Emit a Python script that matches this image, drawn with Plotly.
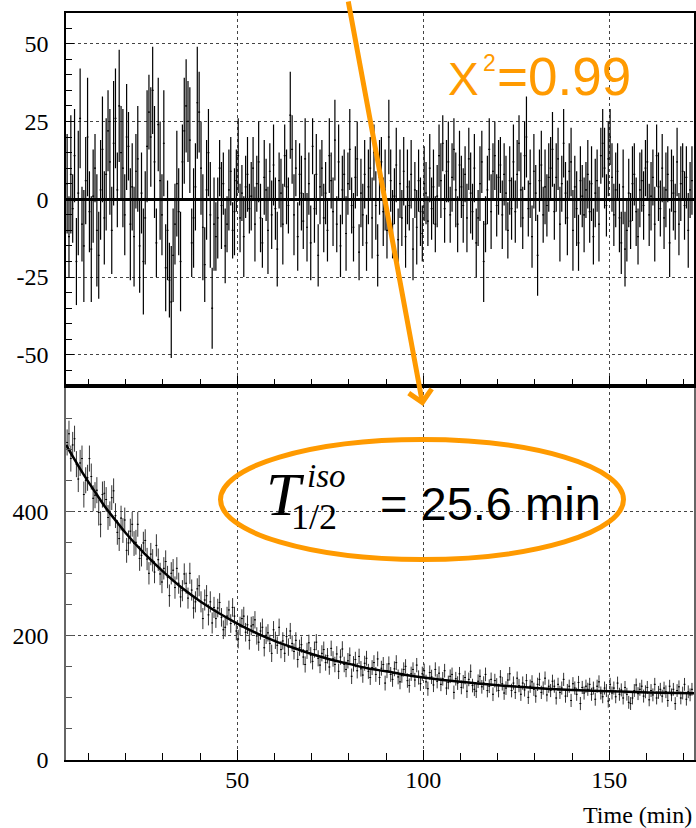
import plotly.graph_objects as go

# ---------------- data ----------------
BIN_START = 4.25      # centre of first 0.5-min bin
BIN_WIDTH = 0.5

# residuals (top panel), 0.5-min bins
residuals = [
    5,-12,8,-3,14,-20,2,26,-8,-15,6,20,-4,-16,1,10,-10,-18,3,16,
    -6,8,22,12,-10,18,26,3,30,15,10,-5,20,17,-8,4,-12,9,13,-15,
    2,-20,-6,17,28,20,35,12,-14,24,6,-5,18,-22,-10,-26,-33,-18,-8,5,
    -4,-20,12,22,30,25,19,-14,-6,4,31,28,10,-9,-21,3,15,-5,-35,-8,
    -12,-6,10,-2,5,-15,-8,3,9,-10,-4,6,14,-6,2,-12,4,8,-3,1,
    10,-8,5,12,-6,-14,7,3,-10,9,-5,11,-3,-16,6,2,-8,14,4,-2,
    27,16,-5,10,-12,8,2,-7,13,-9,5,-14,17,-3,8,-18,4,10,-6,2,
    -10,14,6,-4,19,-8,12,-15,3,8,-11,5,16,-2,-9,7,13,-17,2,-5,
    8,-14,4,10,-6,15,-2,-18,7,12,-4,3,-10,20,6,-8,1,11,-13,5,
    -6,9,-12,4,-2,8,-16,3,-9,6,-4,-11,5,2,-7,10,-3,4,-8,1,
    14,6,18,-3,9,12,-5,7,16,3,-8,11,4,-2,8,-6,13,2,-4,10,
    -14,-6,5,12,-20,-8,3,16,-4,9,14,-2,7,11,-5,8,2,-10,6,-3,
    12,-4,8,18,3,-6,14,20,-3,5,-12,9,2,-18,6,11,-5,4,-2,7,
    10,16,-4,7,13,-8,5,18,2,-6,9,12,-10,4,-3,-14,6,1,-5,3,
    8,-4,5,-12,2,6,-8,14,18,10,-2,13,20,7,-5,3,9,-6,-14,4,
    -16,-10,2,-7,5,8,-4,-12,3,6,-2,10,12,-5,1,7,-8,14,4,-3,
    10,-6,3,8,-14,6,2,-4,12,-8,5,9,-2,7,-10,3,6,
]
residual_err = [
    16,13,19,11,15,14,20,16,12,18,14,19,13,17,15,11,18,14,16,17,
    15,18,13,17,14,20,16,12,18,15,19,13,17,11,18,14,16,12,17,15,
    13,17,15,18,12,16,14,18,11,15,19,13,17,14,16,12,18,15,13,17,
    14,16,12,17,15,13,17,11,16,14,18,13,15,17,12,16,14,17,13,15,
    11,13,9,14,10,12,9,13,11,9,14,10,12,11,9,13,10,12,8,11,
    10,12,9,13,11,8,12,10,14,9,11,13,10,12,9,11,13,10,12,9,
    14,11,13,9,11,10,12,9,13,11,10,12,9,11,13,10,12,9,11,10,
    10,12,9,11,13,9,12,10,11,8,12,10,13,9,11,10,12,9,11,10,
    11,9,12,10,13,9,11,10,12,8,11,13,9,12,10,11,9,12,10,11,
    9,11,10,12,8,11,10,9,12,10,11,9,12,10,8,11,10,12,9,10,
    10,12,9,11,10,13,9,11,10,12,9,11,10,12,9,11,10,13,9,11,
    11,9,12,10,13,9,11,10,12,9,11,10,12,9,11,10,12,9,11,10,
    12,10,11,9,12,10,11,13,9,11,10,12,9,13,10,11,9,12,10,11,
    10,12,9,11,10,12,9,11,10,12,9,11,13,10,12,9,11,10,12,9,
    11,10,12,9,11,10,12,9,11,13,10,12,9,11,10,12,9,11,10,12,
    12,10,11,9,12,10,11,9,12,10,11,9,12,10,11,9,12,10,11,9,
    11,10,12,9,11,10,12,9,11,10,12,9,11,10,12,9,11,
]

# counts (bottom panel), 0.5-min bins
counts = [
    512,526,486,508,518,477,453,479,486,428,451,455,486,457,422,427,435,399,380,428,
    430,420,391,397,423,434,394,367,357,390,370,387,338,350,369,380,349,351,380,325,
    330,350,354,324,301,332,322,303,346,323,300,287,309,320,295,265,301,306,278,309,
    285,263,273,300,285,261,301,274,245,255,276,281,255,228,258,265,234,255,221,246,
    228,245,254,230,210,214,232,242,220,246,232,208,195,216,228,232,206,218,193,216,
    218,226,200,190,208,214,181,201,205,188,172,210,193,185,214,178,192,172,199,182,
    208,188,175,193,162,181,186,166,154,176,189,169,159,178,190,164,153,172,178,157,
    168,150,180,163,154,171,143,166,179,154,146,160,169,135,155,162,144,167,147,137,
    156,164,143,133,149,157,138,163,133,148,154,124,144,155,138,130,147,157,134,126,
    136,146,151,128,120,139,146,129,153,133,123,139,144,126,115,141,134,121,146,127,
    140,122,131,144,116,125,135,138,109,131,124,139,117,126,133,111,130,143,120,114,
    111,127,135,118,124,138,112,119,130,106,128,121,112,134,123,108,116,129,139,112,
    124,109,132,120,106,124,113,128,101,119,126,114,103,122,130,109,116,132,105,119,
    112,127,119,100,122,109,116,130,103,112,119,96,123,116,106,125,91,117,108,119,
    114,122,106,116,98,119,126,108,102,116,112,95,122,108,116,102,124,106,113,100,
    117,106,93,91,100,112,121,107,114,119,103,110,117,97,112,105,122,100,109,114,
    103,116,110,96,119,105,114,91,112,118,100,108,122,98,110,105,114,
]
# statistical error of the counts, one reading per 10-min block
counts_err_by_block = [21, 20, 18, 17, 15, 14, 13, 12.5, 12, 11.5, 11, 11, 10.7, 10.6, 10.5, 10.4, 10.3]

# fitted decay curve
fit_t = [4, 6, 8, 10, 12, 14, 16, 18, 20, 25, 30, 35, 40, 45, 50, 55, 60, 65, 70,
         75, 80, 85, 90, 95, 100, 110, 120, 130, 140, 150, 160, 172.8]
fit_y = [508, 487, 467, 448, 430, 412, 396, 381, 366, 333, 304, 278, 256, 237, 220,
         205, 192, 181, 171, 162, 155, 148, 143, 137.5, 133, 126, 120.5, 116, 113,
         111, 109, 107.5]

x_ticks = [50, 100, 150]
top_y_ticks = [50, 25, 0, -25, -50]
top_y_text = ["50", "25", "0", "-25", "-50"]
bot_y_ticks = [0, 200, 400]

chi2_text = "=0.99"
half_life_text = "= 25.6 min"
x_title = "Time (min)"

# ---------------- geometry helpers ----------------
W, H = 696, 828
ORANGE = "#FF9A00"
SERIF = "Liberation Serif, Times New Roman, serif"
SANS = "Liberation Sans, Arial, sans-serif"


def px(x):
    return x / W


def py(y):
    return 1 - y / H


n_top = min(len(residuals), len(residual_err))
t_top = [BIN_START + BIN_WIDTH * i for i in range(n_top)]
n_bot = len(counts)
t_bot = [BIN_START + BIN_WIDTH * i for i in range(n_bot)]
err_bot = [counts_err_by_block[min(i // 20, len(counts_err_by_block) - 1)] for i in range(n_bot)]

fig = go.Figure()

fig.add_trace(go.Scatter(
    x=t_top, y=residuals[:n_top], mode="markers",
    marker=dict(size=1, color="black"),
    error_y=dict(type="data", array=residual_err[:n_top], thickness=1.2, width=0, color="black"),
    error_x=dict(type="constant", value=BIN_WIDTH / 2, thickness=1.2, width=0, color="black"),
    xaxis="x2", yaxis="y2", showlegend=False, hoverinfo="skip",
))

fig.add_trace(go.Scatter(
    x=t_bot, y=counts, mode="markers",
    marker=dict(size=1, color="black"),
    error_y=dict(type="data", array=err_bot, thickness=1, width=0, color="#333"),
    error_x=dict(type="constant", value=BIN_WIDTH / 2, thickness=1, width=0, color="black"),
    xaxis="x", yaxis="y", showlegend=False, hoverinfo="skip",
))

fig.add_trace(go.Scatter(
    x=fit_t, y=fit_y, mode="lines", line=dict(color="black", width=2.5, shape="spline"),
    xaxis="x", yaxis="y", showlegend=False, hoverinfo="skip",
))

X_RANGE = [3.95, 172.8]
grid = dict(showgrid=True, gridcolor="#444", gridwidth=1, griddash="dot")
tickfont = dict(family=SERIF, size=24, color="black")

fig.update_layout(
    width=W, height=H, autosize=False,
    margin=dict(l=0, r=0, t=0, b=0),
    paper_bgcolor="white", plot_bgcolor="white",
    xaxis=dict(
        domain=[px(66), px(694)], range=X_RANGE, anchor="y", automargin=False,
        tickvals=x_ticks, ticks="inside", ticklen=10, tickcolor="black",
        tickfont=tickfont, ticklabelstandoff=-3,
        minor=dict(dtick=10, tick0=0, ticks="inside", ticklen=7, tickcolor="black", showgrid=False),
        showline=True, linecolor="black", linewidth=2, mirror=True, zeroline=False, **grid,
    ),
    yaxis=dict(
        domain=[py(760), py(386)], range=[0, 603], anchor="x", automargin=False,
        tickvals=bot_y_ticks, ticks="inside", ticklen=8, tickcolor="#555",
        tickfont=tickfont, ticklabelstandoff=11,
        minor=dict(dtick=50, tick0=0, ticks="inside", ticklen=6, tickcolor="#555", showgrid=False),
        showline=True, linecolor="#666", linewidth=1.5, mirror=True, zeroline=False, **grid,
    ),
    xaxis2=dict(
        domain=[px(66), px(694)], range=X_RANGE, anchor="y2", matches="x", automargin=False,
        tickvals=x_ticks, showticklabels=False, ticks="inside", ticklen=10, tickcolor="black",
        minor=dict(dtick=10, tick0=0, ticks="inside", ticklen=7, tickcolor="black", showgrid=False),
        showline=True, linecolor="black", linewidth=2, mirror=True, zeroline=False, **grid,
    ),
    yaxis2=dict(
        domain=[py(386), py(12.5)], range=[-60, 60], anchor="x2", automargin=False,
        tickvals=top_y_ticks, ticktext=top_y_text, ticks="inside", ticklen=8, tickcolor="black",
        tickfont=tickfont, ticklabelstandoff=11,
        minor=dict(dtick=5, tick0=0, ticks="inside", ticklen=6, tickcolor="black", showgrid=False),
        showline=True, linecolor="black", linewidth=1.5, mirror=True,
        zeroline=True, zerolinecolor="black", zerolinewidth=2.5, **grid,
    ),
)

# orange ellipse around the half-life
fig.add_shape(type="circle", xref="paper", yref="paper",
              x0=px(220.5), x1=px(623.5), y0=py(559.5), y1=py(439.5),
              line=dict(color=ORANGE, width=5), layer="above")

annotations = [
    # arrow
    dict(x=px(423), y=py(406), xref="paper", yref="paper", text="", showarrow=True,
         ax=348 - 423, ay=0 - 406, axref="pixel", ayref="pixel",
         arrowhead=4, arrowsize=0.9, arrowwidth=5, arrowcolor=ORANGE, standoff=0),
    # chi^2 text
    dict(x=px(446), y=py(79.5), xref="paper", yref="paper", text="X", showarrow=False,
         xanchor="left", yanchor="middle", font=dict(family=SANS, size=46, color=ORANGE)),
    dict(x=px(481), y=py(62.5), xref="paper", yref="paper", text="2", showarrow=False,
         xanchor="left", yanchor="middle", font=dict(family=SANS, size=23, color=ORANGE)),
    dict(x=px(495), y=py(76.5), xref="paper", yref="paper", text=chi2_text, showarrow=False,
         xanchor="left", yanchor="middle", font=dict(family=SANS, size=53, color=ORANGE)),
    # T_{1/2}^{iso}
    dict(x=px(264), y=py(494), xref="paper", yref="paper", text="<i>T</i>", showarrow=False,
         xanchor="left", yanchor="middle", font=dict(family=SERIF, size=62, color="black")),
    dict(x=px(305), y=py(476), xref="paper", yref="paper", text="<i>iso</i>", showarrow=False,
         xanchor="left", yanchor="middle", font=dict(family=SERIF, size=33, color="black")),
    dict(x=px(289), y=py(517), xref="paper", yref="paper", text="1/2", showarrow=False,
         xanchor="left", yanchor="middle", font=dict(family=SERIF, size=36, color="black")),
    dict(x=px(378), y=py(503.5), xref="paper", yref="paper", text=half_life_text, showarrow=False,
         xanchor="left", yanchor="middle", font=dict(family=SANS, size=47, color="black")),
    # axis title
    dict(x=px(694), y=py(815), xref="paper", yref="paper", text=x_title, showarrow=False,
         xanchor="right", yanchor="middle", font=dict(family=SERIF, size=24, color="black")),
]
for a in annotations:
    fig.add_annotation(**a)

fig.write_html("out.html")
